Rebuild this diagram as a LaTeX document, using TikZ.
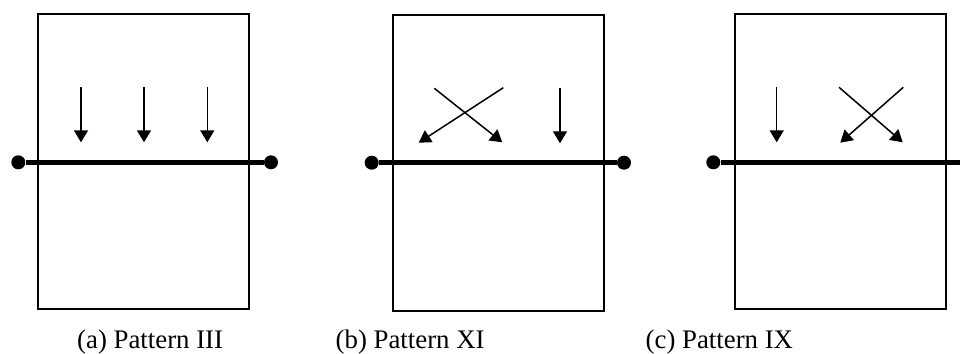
\documentclass[tikz,border=0pt]{standalone}
\usepackage{fontspec}
\setmainfont{Liberation Serif}
\usetikzlibrary{arrows.meta, positioning}
\tikzset{
  painel/.style={
    draw, line width=2pt, rectangle, inner sep=0pt,
    minimum width=211pt, minimum height=295pt
  },
  ponto/.style={circle, fill=black, inner sep=0pt, minimum width=14pt, minimum height=12pt},
  barra/.style={line width=4.5pt},
  seta/.style={-{Triangle[length=12pt, width=14pt]}, line width=1.5pt},
  legenda/.style={anchor=base west, inner sep=0pt, font=\fontsize{26.8}{32}\selectfont},
}
\begin{document}
\begin{tikzpicture}[x=1pt, y=-1pt]

\useasboundingbox (0,0) rectangle (960,353);

% Painel (a)
\node[painel] (boxA) at (143.7,161.7) {};
\node[ponto] (aL) at (18.3,162.3) {};
\node[ponto] (aR) at (271,162.3) {};
\draw[barra] (aL) -- (aR);
\coordinate (a1s) at (81,87.3);
\coordinate (a1e) at (81,142.3);
\coordinate (a2s) at (144,87.3);
\coordinate (a2e) at (144,142.3);
\coordinate (a3s) at (207.3,87.3);
\coordinate (a3e) at (207.3,142.3);
\draw[seta] (a1s) -- (a1e);
\draw[seta] (a2s) -- (a2e);
\draw[seta] (a3s) -- (a3e);
\node[legenda] (capA) at (77,348.3) {(a) Pattern III};

% Painel (b)
\node[painel, minimum height=296pt] (boxB) at (498.2,163) {};
\node[ponto] (bL) at (371.7,162.7) {};
\node[ponto] (bR) at (624,162.7) {};
\draw[barra] (bL) -- (bR);
\coordinate (b1s) at (434.3,88.3);
\coordinate (b1e) at (502.3,142.3);
\coordinate (b2s) at (503.3,87.7);
\coordinate (b2e) at (418.7,142.7);
\coordinate (b3s) at (560,88.3);
\coordinate (b3e) at (560,143.3);
\draw[seta] (b1s) -- (b1e);
\draw[seta] (b2s) -- (b2e);
\draw[seta] (b3s) -- (b3e);
\node[legenda] (capB) at (335.5,348.3) {(b) Pattern XI};

% Painel (c)
\node[painel] (boxC) at (840,161.5) {};
\node[ponto] (cL) at (713.3,162.3) {};
\node[ponto] (cR) at (967,162.3) {};
\draw[barra] (cL) -- (cR);
\coordinate (c1s) at (776.7,87.3);
\coordinate (c1e) at (776.7,142.3);
\coordinate (c2s) at (839,87.3);
\coordinate (c2e) at (902.7,142.3);
\coordinate (c3s) at (903.3,87.3);
\coordinate (c3e) at (840.3,142.7);
\draw[seta] (c1s) -- (c1e);
\draw[seta] (c2s) -- (c2e);
\draw[seta] (c3s) -- (c3e);
\node[legenda] (capC) at (645.5,348.3) {(c) Pattern IX};

\end{tikzpicture}
\end{document}
